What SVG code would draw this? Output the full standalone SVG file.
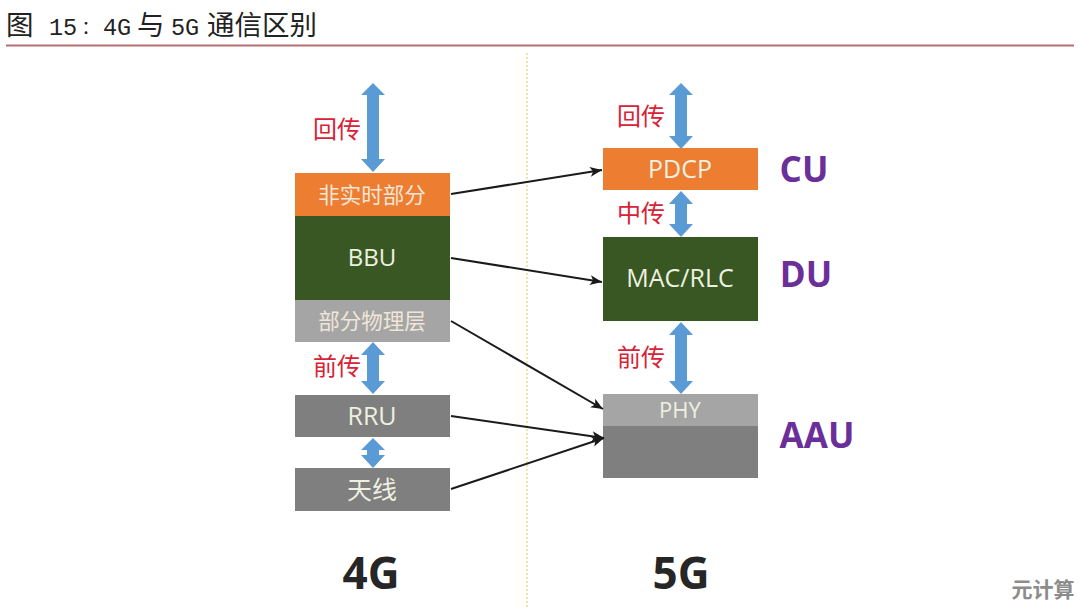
<svg xmlns="http://www.w3.org/2000/svg" width="1080" height="609" viewBox="0 0 1080 609">
<style>
text{font-family:"Open Sans","Noto Sans CJK SC",sans-serif;text-anchor:middle}
.t{font-size:25px;fill:#eef0e0}
.z{font-size:21.5px;fill:#f0e6d8}
.r{font-size:24px;fill:#d92235}
.p{font-size:35px;font-weight:700;fill:#6b2f9a}
.g{font-size:44px;font-weight:700;fill:#262626}
.a{fill:#5b9bd5}
.c{stroke:#1a1a1a;stroke-width:2;fill:none;marker-end:url(#h)}
.ti{font-size:27.5px;fill:#222;text-anchor:start;font-family:"Noto Sans CJK SC",sans-serif}
.tl{font-size:23.5px;font-family:"Liberation Mono",monospace}
.tc{font-size:18px;font-family:"Noto Sans CJK TC",sans-serif}
</style>
<defs><marker id="h" markerUnits="userSpaceOnUse" markerWidth="14" markerHeight="12" refX="12" refY="5" orient="auto"><path d="M0 0L12 5L0 10L3 5Z" fill="#1a1a1a"/></marker></defs>
<rect width="1080" height="609" fill="#fff"/>
<g id="title">
<text class="ti" y="35"><tspan x="6">图</tspan><tspan class="tl" x="49">15</tspan><tspan class="tc" x="77">：</tspan><tspan class="tl" x="103">4G</tspan><tspan x="137">与</tspan><tspan class="tl" x="171">5G</tspan><tspan x="207">通信区别</tspan></text>
<rect x="6" y="44.5" width="1068" height="2" fill="#b87070"/></g>
<line id="divider" x1="527" y1="53" x2="527" y2="609" stroke="#e6e28a" stroke-width="1.5" stroke-dasharray="2 2"/>
<g id="arrows">
<path class="a" d="M373 83L385 95H379V159H385L373 172L361 159H367V95H361Z"/>
<path class="a" d="M373 342L385 355H379V381H385L373 394L361 381H367V355H361Z"/>
<path class="a" d="M373 438L385 450H379V455H385L373 468L361 455H367V450H361Z"/>
<path class="a" d="M681 83L693 95H687V136H693L681 149L669 136H675V95H669Z"/>
<path class="a" d="M681 191L693 204H687V224H693L681 237L669 224H675V204H669Z"/>
<path class="a" d="M681 322L693 335H687V381H693L681 394L669 381H675V335H669Z"/>
</g>
<g id="n-nrt"><rect x="295" y="173" width="155" height="43" fill="#ed7d31"/><text class="z" x="372" y="203">非实时部分</text></g>
<g id="n-bbu"><rect x="295" y="216" width="155" height="84" fill="#385723"/><text class="t" x="372" y="266" style="font-size:24px">BBU</text></g>
<g id="n-phy4"><rect x="295" y="300" width="155" height="42" fill="#a5a5a5"/><text class="z" x="372" y="329">部分物理层</text></g>
<g id="n-rru"><rect x="295" y="395" width="155" height="42" fill="#7f7f7f"/><text class="t" x="372" y="425">RRU</text></g>
<g id="n-ant"><rect x="295" y="468" width="155" height="43" fill="#7f7f7f"/><text class="t" x="372" y="499">天线</text></g>
<g id="n-pdcp"><rect x="603" y="148" width="155" height="42" fill="#ed7d31"/><text class="t" x="680" y="178">PDCP</text></g>
<g id="n-mac"><rect x="603" y="237" width="155" height="84" fill="#385723"/><text class="t" x="680" y="287">MAC/RLC</text></g>
<g id="n-aau"><rect x="603" y="394" width="155" height="84" fill="#7f7f7f"/><rect x="603" y="394" width="155" height="32" fill="#a5a5a5"/><text class="t" x="680" y="418" style="font-size:22px">PHY</text></g>
<g id="labels">
<text class="r" x="337" y="138">回传</text><text class="r" x="337" y="375">前传</text>
<text class="r" x="641" y="125">回传</text><text class="r" x="641" y="222">中传</text><text class="r" x="641" y="366">前传</text>
<text class="p" x="804" y="182">CU</text><text class="p" x="806" y="287">DU</text><text class="p" x="817" y="448">AAU</text>
<text class="g" x="371" y="589">4G</text><text class="g" x="681" y="589">5G</text>
<text x="1043" y="597" style="font-size:21px;font-weight:700;fill:#8c8c8c">元计算</text>
</g>
<g id="connectors">
<path class="c" d="M451 194L602 170"/>
<path class="c" d="M451 258L602 282"/>
<path class="c" d="M451 321L603 409"/>
<path class="c" d="M451 416L604 438"/>
<path class="c" d="M451 489L604 438"/>
</g>
</svg>
